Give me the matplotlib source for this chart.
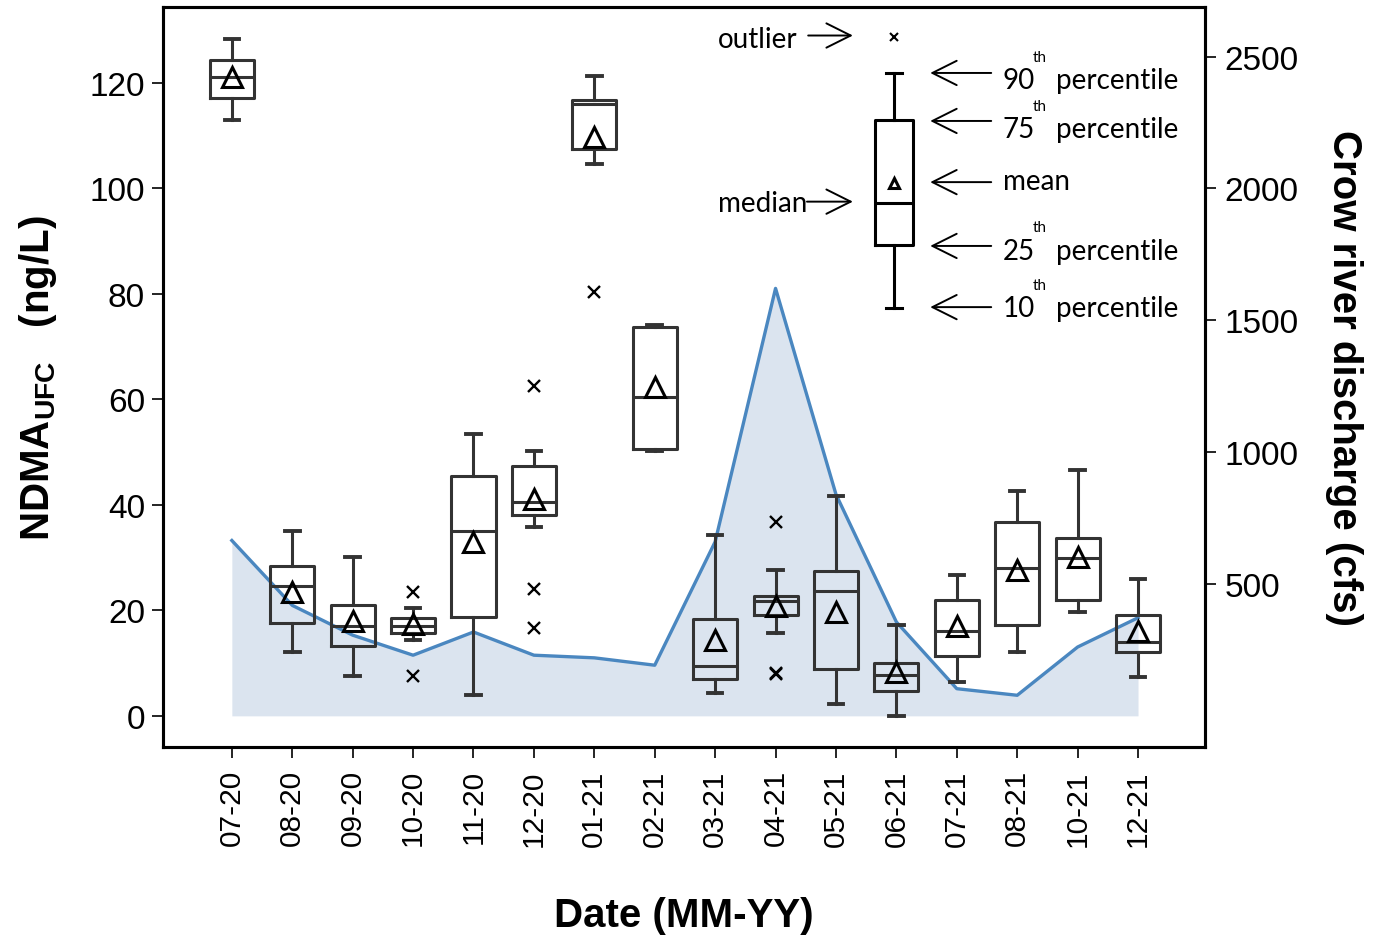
import matplotlib
matplotlib.use("Agg")
import matplotlib.pyplot as plt

plt.rcParams['font.family'] = ['Liberation Sans', 'DejaVu Sans']
plt.rcParams['mathtext.fontset'] = 'custom'
plt.rcParams['mathtext.rm'] = 'Liberation Sans'
plt.rcParams['mathtext.bf'] = 'Liberation Sans:bold'

# sampling months
dates = ['07-20', '08-20', '09-20', '10-20', '11-20', '12-20', '01-21', '02-21',
         '03-21', '04-21', '05-21', '06-21', '07-21', '08-21', '10-21', '12-21']

# NDMA_UFC box statistics (ng/L)
p10 = [113.0, 12.2, 7.5, 14.4, 3.9, 35.8, 104.7, 50.2, 4.4, 15.7, 2.3, 0.0, 6.5, 12.2, 19.7, 7.3]
p25 = [117.1, 17.6, 13.3, 15.7, 18.8, 38.1, 107.4, 50.6, 7.0, 19.1, 8.9, 4.8, 11.4, 17.3, 22.0, 12.2]
med = [121.1, 24.7, 17.1, 17.1, 35.1, 40.5, 116.1, 60.5, 9.5, 21.7, 23.6, 7.8, 16.0, 28.1, 29.9, 14.0]
p75 = [124.4, 28.5, 21.1, 18.6, 45.4, 47.3, 116.8, 73.7, 18.3, 22.7, 27.4, 10.0, 22.0, 36.7, 33.7, 19.2]
p90 = [128.3, 35.1, 30.2, 20.4, 53.5, 50.2, 121.4, 74.1, 34.2, 27.7, 41.6, 17.3, 26.8, 42.7, 46.6, 26.0]
means = [121.2, 23.5, 17.9, 17.5, 32.9, 41.1, 109.8, 62.4, 14.3, 20.9, 19.7, 8.3, 17.1, 27.7, 30.1, 16.0]
outliers = {3: [23.4, 7.6], 5: [62.5, 24.1, 16.6], 6: [80.4], 9: [36.7, 8.0, 8.2]}

# Crow river discharge (cfs)
discharge = [665, 419, 306, 230, 318, 230, 220, 192, 660, 1621, 840, 356, 103, 78, 261, 372]

# schematic key box
key_pos = 10.96
key_stats = dict(whislo=77.3, q1=89.2, med=97.3, q3=112.9, whishi=121.9, mean=101.0, fliers=[128.8])

box_col = '#333333'
line_col = '#4a87c0'
fill_col = '#dbe4ef'

fig = plt.figure(figsize=(13.73, 9.45), dpi=100)
ax = fig.add_axes([0.1187, 0.2085, 0.759, 0.783])
ax2 = ax.twinx()

x = list(range(len(dates)))

# discharge on the right axis
ax2.fill_between(x, 0, discharge, color=fill_col, lw=0)
ax2.plot(x, discharge, color=line_col, lw=2.4)
ax2.set_ylim(-118, 2688)
ax2.set_yticks([500, 1000, 1500, 2000, 2500])
ax2.set_ylabel('Crow river discharge (cfs)', fontsize=29, fontweight='bold',
               rotation=270, labelpad=46)

# boxes
stats = []
for i in range(len(dates)):
    stats.append(dict(whislo=p10[i], q1=p25[i], med=med[i], q3=p75[i], whishi=p90[i],
                      mean=means[i], fliers=outliers.get(i, [])))

lp = dict(color=box_col, lw=2.2)
ax.bxp(stats, positions=x, widths=0.73, showmeans=True, manage_ticks=False,
       boxprops=lp, whiskerprops=lp, medianprops=lp,
       capprops=dict(color=box_col, lw=2.8), capwidths=0.24,
       meanprops=dict(marker='^', markerfacecolor='none', markeredgecolor='black',
                      markersize=14, markeredgewidth=2.2),
       flierprops=dict(marker='x', markeredgecolor='black', markersize=8,
                       markeredgewidth=1.7))

# key
kl = dict(color='black', lw=2.2)
ax.bxp([key_stats], positions=[key_pos], widths=0.63, showmeans=True, manage_ticks=False,
       boxprops=kl, whiskerprops=kl, medianprops=kl, capprops=kl, capwidths=0.28,
       meanprops=dict(marker='^', markerfacecolor='none', markeredgecolor='black',
                      markersize=7, markeredgewidth=2.2),
       flierprops=dict(marker='x', markeredgecolor='black', markersize=6,
                       markeredgewidth=1.5))

kfont = dict(family=['Lato', 'DejaVu Sans'], fontsize=20, color='black')
arw = dict(arrowstyle='->,head_length=0.7,head_width=0.35', lw=1.4, color='black',
           mutation_scale=25, shrinkA=0, shrinkB=0)

ax.annotate('', xy=(10.28, 129.0), xytext=(9.54, 129.0), arrowprops=arw)
ax.text(9.36, 128.3, 'outlier', ha='right', va='center', **kfont)
ax.annotate('', xy=(10.28, 97.5), xytext=(9.52, 97.5), arrowprops=arw)
ax.text(9.52, 97.3, 'median', ha='right', va='center', **kfont)

key_rows = [('90', 121.9, 120.6), ('75', 112.8, 111.3), ('25', 89.1, 88.2), ('10', 77.5, 77.3)]
for num, ya, yt in key_rows:
    ax.annotate('', xy=(11.56, ya), xytext=(12.57, ya), arrowprops=arw)
    ax.text(12.76, yt, num, ha='left', va='center', **kfont)
    ax.text(13.38, yt + 4.4, 'th', ha='center', va='center',
            family=['Lato', 'DejaVu Sans'], fontsize=11)
    ax.text(13.65, yt, 'percentile', ha='left', va='center', **kfont)
ax.annotate('', xy=(11.56, 101.2), xytext=(12.57, 101.2), arrowprops=arw)
ax.text(12.76, 101.4, 'mean', ha='left', va='center', **kfont)

# left axis
ax.set_zorder(ax2.get_zorder() + 1)
ax.patch.set_visible(False)
ax.set_xlim(-1.14, 16.11)
ax.set_ylim(-5.9, 134.4)
ax.set_yticks([0, 20, 40, 60, 80, 100, 120])
ax.set_xticks(x)
ax.set_xticklabels(dates, rotation=90)
ax.set_ylabel(r'$\mathbf{NDMA_{UFC}}$   (ng/L)', fontsize=29, fontweight='bold', labelpad=22)
ax.set_xlabel('Date (MM-YY)', fontsize=29, fontweight='bold', labelpad=36)

for a in (ax, ax2):
    for s in a.spines.values():
        s.set_linewidth(2.2)
ax.tick_params(axis='y', labelsize=24, length=8, width=1.2, pad=5)
ax.tick_params(axis='x', labelsize=21.5, length=8, width=1.2, pad=8)
ax2.tick_params(axis='y', labelsize=24, length=8, width=1.2, pad=6)

fig.savefig('out.png', dpi=100)
